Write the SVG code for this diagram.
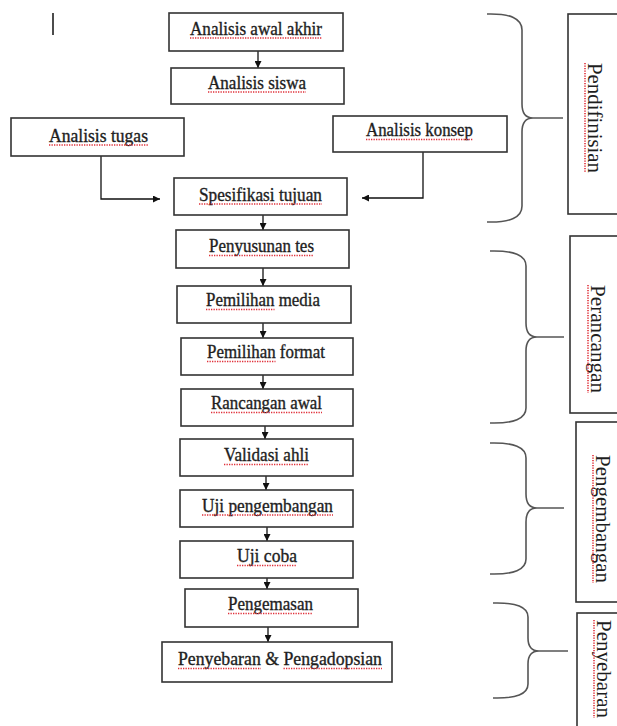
<svg xmlns="http://www.w3.org/2000/svg" width="617" height="726" viewBox="0 0 617 726">
<style>
.box{fill:#fff;stroke:#333;stroke-width:1.6}
.t{font-family:"Liberation Serif","Times New Roman",serif;font-size:18px;fill:#1e1e1e;stroke:#1e1e1e;stroke-width:0.35;text-anchor:middle}
.v{font-family:"Liberation Serif","Times New Roman",serif;font-size:22px;fill:#1e1e1e}
.sp{stroke:#e0303a;stroke-width:1.6;stroke-dasharray:1.3 1.2;fill:none}
.c{stroke:#111;stroke-width:1.3;fill:none}
.br{stroke:#555;stroke-width:1.6;fill:none}
</style>
<defs>
<marker id="ah" viewBox="0 0 7 7" markerWidth="7" markerHeight="7" refX="7" refY="3.5" orient="auto" markerUnits="userSpaceOnUse">
<path d="M0,0 L7,3.5 L0,7 z" fill="#111"/>
</marker>
</defs>
<rect width="617" height="726" fill="#fff"/>
<line x1="53" y1="13" x2="53" y2="35" stroke="#111" stroke-width="1.5"/>

<g id="connectors">
<line class="c" x1="258" y1="51" x2="258" y2="68" marker-end="url(#ah)"/>
<polyline class="c" points="101,156 101,199 160,199" marker-end="url(#ah)"/>
<polyline class="c" points="423,152 423,198 362,198" marker-end="url(#ah)"/>
<line class="c" x1="263" y1="215" x2="263" y2="230" marker-end="url(#ah)"/>
<line class="c" x1="263" y1="268" x2="263" y2="286" marker-end="url(#ah)"/>
<line class="c" x1="263" y1="323" x2="263" y2="338" marker-end="url(#ah)"/>
<line class="c" x1="263" y1="375" x2="263" y2="389" marker-end="url(#ah)"/>
<line class="c" x1="265" y1="426" x2="265" y2="439" marker-end="url(#ah)"/>
<line class="c" x1="266" y1="476" x2="266" y2="490" marker-end="url(#ah)"/>
<line class="c" x1="267" y1="527" x2="267" y2="541" marker-end="url(#ah)"/>
<line class="c" x1="267" y1="578" x2="267" y2="589" marker-end="url(#ah)"/>
<line class="c" x1="268" y1="627" x2="268" y2="642" marker-end="url(#ah)"/>
</g>

<g id="n1"><rect class="box" x="169" y="13" width="174" height="38"/><text class="t" x="256" y="35" textLength="132" lengthAdjust="spacingAndGlyphs">Analisis awal akhir</text><line class="sp" x1="190" y1="38" x2="322" y2="38"/></g>
<g id="n2"><rect class="box" x="171" y="68" width="173" height="36"/><text class="t" x="257" y="89" textLength="98" lengthAdjust="spacingAndGlyphs">Analisis siswa</text><line class="sp" x1="208" y1="92" x2="306" y2="92"/></g>
<g id="n3"><rect class="box" x="11" y="118" width="173" height="38"/><text class="t" x="98.5" y="141.5" textLength="99" lengthAdjust="spacingAndGlyphs">Analisis tugas</text><line class="sp" x1="49" y1="145" x2="148" y2="145"/></g>
<g id="n4"><rect class="box" x="333" y="116" width="174" height="36"/><text class="t" x="419.5" y="136" textLength="107" lengthAdjust="spacingAndGlyphs">Analisis konsep</text><line class="sp" x1="366" y1="139.5" x2="473" y2="139.5"/></g>
<g id="n5"><rect class="box" x="174" y="178" width="173" height="37"/><text class="t" x="260.5" y="200.5" textLength="123" lengthAdjust="spacingAndGlyphs">Spesifikasi tujuan</text><line class="sp" x1="199" y1="204" x2="322" y2="204"/></g>
<g id="n6"><rect class="box" x="176" y="230" width="173" height="38"/><text class="t" x="261.5" y="252" textLength="105" lengthAdjust="spacingAndGlyphs">Penyusunan tes</text><line class="sp" x1="209" y1="255.5" x2="314" y2="255.5"/></g>
<g id="n7"><rect class="box" x="177" y="286" width="174" height="37"/><text class="t" x="263" y="306" textLength="114" lengthAdjust="spacingAndGlyphs">Pemilihan media</text><line class="sp" x1="206" y1="309.5" x2="274.5" y2="309.5"/></g>
<g id="n8"><rect class="box" x="181" y="338" width="172" height="37"/><text class="t" x="266" y="358" textLength="118" lengthAdjust="spacingAndGlyphs">Pemilihan format</text><line class="sp" x1="207" y1="361.5" x2="275.5" y2="361.5"/></g>
<g id="n9"><rect class="box" x="181" y="389" width="172" height="37"/><text class="t" x="266.5" y="409" textLength="111" lengthAdjust="spacingAndGlyphs">Rancangan awal</text><line class="sp" x1="211" y1="412.5" x2="322" y2="412.5"/></g>
<g id="n10"><rect class="box" x="180" y="439" width="173" height="37"/><text class="t" x="266.5" y="461" textLength="85" lengthAdjust="spacingAndGlyphs">Validasi ahli</text><line class="sp" x1="224" y1="464.5" x2="309" y2="464.5"/></g>
<g id="n11"><rect class="box" x="180" y="490" width="173" height="37"/><text class="t" x="267.5" y="511.5" textLength="131" lengthAdjust="spacingAndGlyphs">Uji pengembangan</text><line class="sp" x1="202" y1="515" x2="333" y2="515"/></g>
<g id="n12"><rect class="box" x="180" y="541" width="173" height="37"/><text class="t" x="267" y="562" textLength="60" lengthAdjust="spacingAndGlyphs">Uji coba</text><line class="sp" x1="237" y1="565.5" x2="297" y2="565.5"/></g>
<g id="n13"><rect class="box" x="185" y="589" width="173" height="38"/><text class="t" x="270.5" y="610" textLength="85" lengthAdjust="spacingAndGlyphs">Pengemasan</text><line class="sp" x1="228" y1="613.5" x2="313" y2="613.5"/></g>
<g id="n14"><rect class="box" x="162" y="642" width="230" height="40"/><text class="t" x="280" y="665" textLength="204" lengthAdjust="spacingAndGlyphs">Penyebaran &amp; Pengadopsian</text><line class="sp" x1="178" y1="668.5" x2="261" y2="668.5"/><line class="sp" x1="283.5" y1="668.5" x2="382" y2="668.5"/></g>

<g id="brace1"><path class="br" d="M487,14 Q522,13 522,30 L522,104 Q522,118 533,118 L563,118 L533,118 Q522,118 522,132 L522,206 Q522,223 487,222"/></g>
<g id="brace2"><path class="br" d="M490,251 Q526,250 526,266 L526,323 Q526,337 537,337 L564,337 L537,337 Q526,337 526,351 L526,408 Q526,424 490,423"/></g>
<g id="brace3"><path class="br" d="M490,443 Q526,442 526,458 L526,494 Q526,508 537,508 L564,508 L537,508 Q526,508 526,522 L526,559 Q526,575 490,574"/></g>
<g id="brace4"><path class="br" d="M493,603 Q528,602 528,617 L528,638 Q528,651 539,651 L568,651 L539,651 Q528,651 528,664 L528,684 Q528,699 493,698"/></g>

<g id="p1"><rect class="box" x="568" y="14" width="70" height="200"/><text class="v" transform="translate(588,63) rotate(90)" textLength="110" lengthAdjust="spacingAndGlyphs">Pendifinisian</text><line class="sp" x1="585" y1="63" x2="585" y2="173"/></g>
<g id="p2"><rect class="box" x="570" y="236" width="70" height="177"/><text class="v" transform="translate(591,285) rotate(90)" textLength="108" lengthAdjust="spacingAndGlyphs">Perancangan</text><line class="sp" x1="588" y1="285" x2="588" y2="393"/></g>
<g id="p3"><rect class="box" x="576" y="422" width="70" height="180"/><text class="v" transform="translate(596,455) rotate(90)" textLength="128" lengthAdjust="spacingAndGlyphs">Pengembangan</text><line class="sp" x1="593" y1="455" x2="593" y2="583"/></g>
<g id="p4"><rect class="box" x="577" y="613" width="70" height="140"/><text class="v" transform="translate(597,620) rotate(90)" textLength="98" lengthAdjust="spacingAndGlyphs">Penyebaran</text><line class="sp" x1="594" y1="620" x2="594" y2="718"/></g>
</svg>
